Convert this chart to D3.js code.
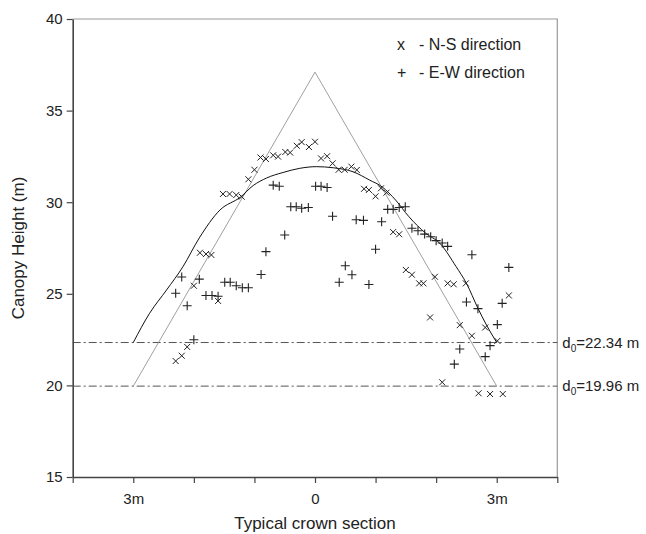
<!DOCTYPE html>
<html>
<head>
<meta charset="utf-8">
<script src="https://cdn.jsdelivr.net/npm/d3@7"></script>
<style>
  body { margin: 0; background: #fff; }
  svg { display: block; font-family: Arial, "Liberation Sans", sans-serif; }
</style>
</head>
<body>
<svg width="646" height="534"></svg>
<script>
// N-S direction measurements [position (m), height (m)]
var nsPoints = [
	[-2.30,21.33],[-2.20,21.62],[-2.11,22.10],[-2.00,25.44],[-1.60,24.61],
	[-1.90,27.24],[-1.80,27.17],[-1.71,27.12],[-1.52,30.45],[-1.41,30.45],
	[-1.30,30.39],[-1.21,30.30],[-1.10,31.25],[-1.00,31.77],[-0.90,32.44],
	[-0.81,32.36],[-0.69,32.56],[-0.61,32.49],[-0.49,32.74],[-0.41,32.71],
	[-0.30,33.08],[-0.22,33.28],[-0.10,33.01],[0.00,33.30],[0.10,32.39],
	[0.20,32.51],[0.29,32.12],[0.39,31.77],[0.49,31.77],[0.60,31.94],
	[0.69,31.76],[0.81,30.73],[0.89,30.67],[1.00,30.32],[1.09,30.76],
	[1.18,30.52],[1.29,28.37],[1.39,28.25],[1.50,26.30],[1.60,26.04],
	[1.72,25.57],[1.79,25.57],[1.98,25.93],[2.19,25.57],[2.29,25.52],
	[2.49,25.57],[1.90,23.71],[2.39,23.29],[2.59,22.71],[2.81,23.16],
	[3.01,22.43],[3.20,24.91],[2.10,20.17],[2.70,19.57],[2.89,19.53],
	[3.10,19.53]
];

// E-W direction measurements
var ewPoints = [
	[-2.30,25.03],[-2.20,25.92],[-2.11,24.35],[-2.00,22.49],[-1.91,25.80],
	[-1.80,24.91],[-1.70,24.91],[-1.60,24.87],[-1.49,25.63],[-1.40,25.63],
	[-1.30,25.44],[-1.20,25.33],[-1.10,25.33],[-0.89,26.05],[-0.81,27.30],
	[-0.69,30.93],[-0.59,30.87],[-0.50,28.21],[-0.40,29.75],[-0.31,29.75],
	[-0.22,29.67],[-0.11,29.71],[0.01,30.87],[0.10,30.87],[0.20,30.80],
	[0.29,29.23],[0.40,25.63],[0.50,26.53],[0.61,26.04],[0.68,29.04],
	[0.80,29.01],[0.89,25.51],[1.00,27.43],[1.10,28.93],[1.20,29.61],
	[1.29,29.61],[1.39,29.71],[1.49,29.75],[1.60,28.58],[1.70,28.44],
	[1.81,28.26],[1.91,28.11],[2.00,27.90],[2.10,27.77],[2.19,27.59],
	[2.59,27.13],[3.20,26.44],[2.50,24.55],[2.69,24.19],[3.01,23.32],
	[3.09,24.48],[2.39,21.99],[2.30,21.16],[2.81,21.57],[2.89,22.17]
];

// fitted crown profile (solid curve)
var crownCurve = [
	[-3.00,22.34],[-2.73,23.94],[-2.45,25.21],[-2.18,26.48],[-1.91,28.05],
	[-1.57,29.57],[-1.23,30.28],[-1.02,30.91],[-0.80,31.32],[-0.53,31.62],
	[-0.25,31.85],[0.02,31.94],[0.30,31.88],[0.63,31.66],[0.90,31.21],
	[1.11,30.83],[1.33,30.12],[1.55,29.21],[1.83,28.30],[2.06,27.76],
	[2.33,26.48],[2.50,25.57],[2.69,24.21],[2.83,23.30],[3.00,22.34]
];

// cone model (dotted triangle)
var coneLine = [[-3,19.96],[0,37.1],[3,19.96]];

// reference heights d0
var refHeights = [22.34, 19.96];

var yTicks = [15, 20, 25, 30, 35, 40];
var xTicks = [-4, -3, -2, -1, 0, 1, 2, 3, 4];
var xTickLabels = {"-3": "3m", "0": "0", "3": "3m"};

var legendItems = [
	{symbol: "x", label: "- N-S direction"},
	{symbol: "+", label: "- E-W direction"}
];

var svg = d3.select("svg");
var x = d3.scaleLinear().domain([-4, 4]).range([72.7, 557.3]);
var y = d3.scaleLinear().domain([15, 40]).range([477, 19]);

// frame (top + right, light)
svg.append("path")
	.attr("d", "M" + x(-4) + "," + y(40) + "H" + x(4) + "V" + y(15))
	.attr("fill", "none")
	.attr("stroke", "#9a9a9a")
	.attr("stroke-width", 1.2);

// reference lines
svg.selectAll("line.ref").data(refHeights).enter().append("line")
	.attr("class", "ref")
	.attr("x1", x(-4)).attr("x2", x(4))
	.attr("y1", function(d) {return y(d)})
	.attr("y2", function(d) {return y(d)})
	.attr("stroke", "#555")
	.attr("stroke-width", 1)
	.attr("stroke-dasharray", "8,3,2,3");

var refLabels = svg.selectAll("text.ref").data(refHeights).enter().append("text")
	.attr("class", "ref")
	.attr("x", x(4) + 5)
	.attr("y", function(d) {return y(d) + 5})
	.attr("font-size", 15)
	.attr("fill", "#222");
refLabels.append("tspan").text("d");
refLabels.append("tspan").attr("dy", 4).attr("font-size", 10).text("0");
refLabels.append("tspan").attr("dy", -4).text(function(d) {return "=" + d.toFixed(2) + " m"});

var line = d3.line().x(function(d) {return x(d[0])}).y(function(d) {return y(d[1])});

svg.append("path").datum(coneLine)
	.attr("d", line)
	.attr("fill", "none")
	.attr("stroke", "#888")
	.attr("stroke-width", 0.8);

svg.append("path").datum(crownCurve)
	.attr("d", line.curve(d3.curveMonotoneX))
	.attr("fill", "none")
	.attr("stroke", "#111")
	.attr("stroke-width", 1);

// markers
svg.selectAll("path.ns").data(nsPoints).enter().append("path")
	.attr("class", "ns")
	.attr("d", "M-3,-3L3,3M-3,3L3,-3")
	.attr("transform", function(d) {return "translate(" + x(d[0]) + "," + y(d[1]) + ")"})
	.attr("stroke", "#222")
	.attr("stroke-width", 1);

svg.selectAll("path.ew").data(ewPoints).enter().append("path")
	.attr("class", "ew")
	.attr("d", "M-4.5,0H4.5M0,-4.5V4.5")
	.attr("transform", function(d) {return "translate(" + x(d[0]) + "," + y(d[1]) + ")"})
	.attr("stroke", "#222")
	.attr("stroke-width", 1.1);

// axes
var yAxis = svg.append("g")
	.attr("transform", "translate(" + x(-4) + ",0)")
	.call(d3.axisLeft(y).tickValues(yTicks).tickSize(6).tickSizeOuter(0).tickPadding(4));
var xAxis = svg.append("g")
	.attr("transform", "translate(0," + y(15) + ")")
	.call(d3.axisBottom(x).tickValues(xTicks).tickSize(6).tickSizeOuter(0).tickPadding(10)
		.tickFormat(function(d) {return xTickLabels[d] || ""}));

[yAxis, xAxis].forEach(function(g) {
	g.select(".domain").attr("stroke", "#444").attr("stroke-width", 1.6);
	g.selectAll(".tick line").attr("stroke", "#444").attr("stroke-width", 1.2);
	g.selectAll(".tick text").attr("font-size", 15).attr("fill", "#222")
		.attr("font-family", "Arial, 'Liberation Sans', sans-serif");
});

// axis titles
svg.append("text")
	.attr("transform", "translate(24," + y(27.5) + ") rotate(-90)")
	.attr("text-anchor", "middle")
	.attr("font-size", 17)
	.attr("fill", "#222")
	.text("Canopy Height (m)");

svg.append("text")
	.attr("x", x(0))
	.attr("y", 529)
	.attr("text-anchor", "middle")
	.attr("font-size", 17)
	.attr("fill", "#222")
	.text("Typical crown section");

// legend
var legend = svg.selectAll("g.legend").data(legendItems).enter().append("g")
	.attr("class", "legend")
	.attr("transform", function(d, i) {return "translate(397," + (50 + i * 28) + ")"});
legend.append("text").attr("font-size", 16).attr("fill", "#222")
	.text(function(d) {return d.symbol});
legend.append("text").attr("x", 22).attr("font-size", 16).attr("fill", "#222")
	.text(function(d) {return d.label});
</script>
</body>
</html>
